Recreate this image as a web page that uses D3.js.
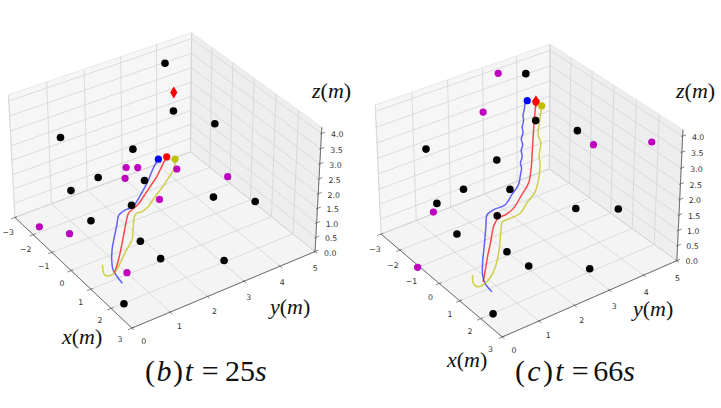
<!DOCTYPE html>
<html><head><meta charset="utf-8">
<script src="https://cdn.jsdelivr.net/npm/d3@7"></script>
<style>body{margin:0;background:#fff}svg{display:block}</style>
</head><body>
<script>
// ---------- axis ranges & ticks ----------
const xDomain=[-3,3], yDomain=[0,5], zDomain=[0,4.2];
const xTicks=[-3,-2,-1,0,1,2,3];
const yTicks=[0,1,2,3,4,5];
const zTicks=[0,0.5,1,1.5,2,2.5,3,3.5,4];
const xTickLabels=["\u22123","\u22122","\u22121","0","1","2","3"];
const yTickLabels=["0","1","2","3","4","5"];
const zTickLabels=["0.0","0.5","1.0","1.5","2.0","2.5","3.0","3.5","4.0"];
const titles=[["b","25"],["c","66"]];

// ---------- data (x, y, z in metres) ----------
const blackDots=[[-2.29,3.84,4.00],[-1.04,3.37,3.25],[0.48,3.63,3.54],[-2.30,0.97,2.73],[-1.20,2.34,2.33],[-1.26,1.42,1.75],[0.21,1.88,2.29],[-1.61,0.86,1.36],[0.26,3.76,0.85],[2.05,3.84,1.73],[0.00,1.64,1.44],[-0.97,1.05,0.60],[0.81,1.43,0.80],[2.34,1.12,1.33],[2.61,2.67,0.64],[2.03,0.32,0.01]];
const target=[-1.08,3.40,3.84];
const magenta25=[[-0.64,1.85,2.25],[-0.56,2.12,2.17],[-0.40,1.69,2.10],[0.01,2.87,2.10],[0.77,1.97,1.94],[0.94,3.74,1.97],[-1.93,0.14,0.25],[-0.75,0.36,0.63],[1.86,0.50,0.87]];
const magenta66=[[-2.74,3.30,4.02],[-1.97,2.41,3.48],[0.66,3.99,3.03],[2.36,4.55,3.70],[-1.60,0.75,1.13],[-1.00,-0.05,0.00]];
const blue25=[[2.16,0.22,0.85],[1.98,0.20,0.93],[1.75,0.20,1.05],[1.52,0.29,1.19],[1.29,0.43,1.37],[1.08,0.60,1.54],[0.87,0.78,1.72],[0.69,0.93,1.87],[0.68,1.10,1.95],[0.73,1.27,1.99],[0.68,1.41,2.08],[0.57,1.61,2.22],[0.42,1.85,2.39],[0.26,2.06,2.57],[0.16,2.21,2.68],[0.11,2.31,2.75]];
const red25=[[1.85,0.18,1.01],[1.69,0.35,1.16],[1.46,0.56,1.35],[1.22,0.76,1.55],[0.98,0.96,1.76],[0.81,1.12,1.91],[0.78,1.27,1.98],[0.77,1.39,2.04],[0.68,1.59,2.16],[0.57,1.83,2.32],[0.46,2.07,2.48],[0.32,2.28,2.63],[0.23,2.42,2.74],[0.19,2.49,2.79]];
const yellow25=[[1.36,0.13,1.01],[1.53,0.10,0.78],[1.63,0.23,0.78],[1.64,0.35,0.90],[1.55,0.53,1.08],[1.42,0.73,1.24],[1.30,0.94,1.40],[1.09,1.09,1.58],[0.87,1.24,1.77],[0.83,1.32,1.82],[0.88,1.43,1.85],[0.87,1.61,1.93],[0.77,1.85,2.09],[0.70,2.07,2.23],[0.60,2.30,2.39],[0.51,2.49,2.53],[0.40,2.60,2.64],[0.31,2.65,2.71]];
const blue66=[[2.16,0.22,0.85],[1.88,0.20,0.97],[1.68,0.25,1.09],[1.41,0.41,1.29],[1.15,0.60,1.49],[0.93,0.76,1.67],[0.70,0.92,1.84],[0.51,1.06,2.00],[0.49,1.16,2.04],[0.50,1.30,2.08],[0.59,1.51,2.15],[0.49,1.76,2.31],[0.39,2.01,2.47],[0.22,2.17,2.63],[0.09,2.28,2.74],[-0.03,2.32,2.82],[-0.13,2.43,2.92],[-0.29,2.50,3.03],[-0.37,2.59,3.11],[-0.52,2.64,3.21],[-0.62,2.75,3.31],[-0.76,2.81,3.41],[-0.86,2.91,3.51],[-1.00,2.98,3.61],[-1.10,3.08,3.71],[-1.20,3.16,3.79],[-1.23,3.24,3.85]];
const red66=[[1.84,0.17,1.01],[1.66,0.33,1.16],[1.42,0.53,1.35],[1.14,0.79,1.60],[0.84,1.06,1.85],[0.77,1.22,1.96],[0.81,1.41,2.01],[0.81,1.62,2.11],[0.66,1.94,2.32],[0.53,2.21,2.50],[0.26,2.45,2.74],[-0.07,2.68,3.01],[-0.40,2.91,3.28],[-0.67,3.10,3.50],[-0.90,3.27,3.69],[-1.06,3.39,3.83]];
const yellow66=[[1.40,0.14,0.99],[1.50,0.10,0.80],[1.61,0.17,0.72],[1.68,0.31,0.80],[1.70,0.46,0.95],[1.57,0.68,1.15],[1.29,0.94,1.41],[0.99,1.16,1.67],[0.82,1.31,1.83],[0.87,1.49,1.88],[0.93,1.73,1.96],[0.84,1.97,2.13],[0.74,2.27,2.31],[0.53,2.50,2.53],[0.28,2.69,2.75],[0.07,2.79,2.92],[-0.14,2.97,3.12],[-0.35,3.02,3.26],[-0.60,3.21,3.49],[-0.78,3.36,3.66],[-0.89,3.45,3.76]];

// ---------- 3D projection (matplotlib-like perspective) ----------
const DIST=10;
const bx=d3.scaleLinear(xDomain,[-0.5715,0.5715]);
const by=d3.scaleLinear(yDomain,[-0.5715,0.5715]);
const bz=d3.scaleLinear(zDomain,[-0.385,0.385]);
function cross(a,b){return [a[1]*b[2]-a[2]*b[1],a[2]*b[0]-a[0]*b[2],a[0]*b[1]-a[1]*b[0]];}
function dot(a,b){return a[0]*b[0]+a[1]*b[1]+a[2]*b[2];}
function makeCam(el,az,Sx,Sy,cx,cy){const e=el*Math.PI/180,a=az*Math.PI/180;
 const n=[Math.cos(e)*Math.cos(a),Math.cos(e)*Math.sin(a),Math.sin(e)];
 let u=[-n[1],n[0],0];const l=Math.hypot(u[0],u[1]);u=[u[0]/l,u[1]/l,0];
 return {n,u,v:cross(n,u),Sx,Sy,cx,cy};}
function projector(c){return p=>{const q=[bx(p[0]),by(p[1]),bz(p[2])];const w=DIST-dot(q,c.n);
 return [c.cx+c.Sx*dot(q,c.u)/w,c.cy-c.Sy*dot(q,c.v)/w,dot(q,c.n)];};}

const panels=[
 {cam:makeCam(34,-34,1932,1932,163.1,173.9),lines:[blue25,red25,yellow25],magenta:magenta25,
  title:titles[0],titleX:[145,201.7,225],titleW:48,
  labels:{x:[62,344],y:[270,314],z:[312,98]}},
 {cam:makeCam(31,-36,1889,1970,527.4,183.5),lines:[blue66,red66,yellow66],magenta:magenta66,
  title:titles[1],titleX:[515,571.7,593.3],titleW:48.5,
  labels:{x:[447,367],y:[633,316],z:[676,98]}}
];
const lineColors=["#0000ff","#ff0000","#bfbf00"];
const lineOpacity=[0.6,0.7,0.7];
const SERIF="Liberation Serif", SANS="DejaVu Sans";

const svg=d3.select("body").append("svg").attr("width",721).attr("height",408);
const zMax=zDomain[1];

panels.forEach(pn=>{
 const P=projector(pn.cam);
 const g=svg.append("g");
 const path=d3.line().x(d=>P(d)[0]).y(d=>P(d)[1]);
 const seg=(pts,st,w)=>g.append("path").attr("d",path(pts)).attr("fill","none").attr("stroke",st).attr("stroke-width",w);
 // panes
 const panes=[
  {pts:[[-3,0,0],[3,0,0],[3,5,0],[-3,5,0]],fill:"#f4f4f4"},
  {pts:[[-3,0,0],[-3,5,0],[-3,5,zMax],[-3,0,zMax]],fill:"#f6f6f6"},
  {pts:[[-3,5,0],[3,5,0],[3,5,zMax],[-3,5,zMax]],fill:"#eeeeee"}];
 panes.forEach(pa=>g.append("path").attr("d",path(pa.pts)+"Z").attr("fill",pa.fill).attr("stroke","#e2e2e2").attr("stroke-width",0.8));
 // grid
 const gc="#d4d4d4",gw=0.8;
 xTicks.forEach(t=>{seg([[t,0,0],[t,5,0]],gc,gw);seg([[t,5,0],[t,5,zMax]],gc,gw);});
 yTicks.forEach(t=>{seg([[-3,t,0],[3,t,0]],gc,gw);seg([[-3,t,0],[-3,t,zMax]],gc,gw);});
 zTicks.forEach(t=>{seg([[-3,0,t],[-3,5,t]],gc,gw);seg([[-3,5,t],[3,5,t]],gc,gw);});
 // axis lines
 const ac="#555";
 seg([[-3,0,0],[3,0,0]],ac,0.8);seg([[3,0,0],[3,5,0]],ac,0.8);seg([[3,5,0],[3,5,zMax]],ac,0.8);
 // ticks + labels
 const lab=(p,s)=>{const q=P(p);g.append("text").attr("font-family",SANS).attr("x",q[0]).attr("y",q[1]).attr("text-anchor","middle").attr("dominant-baseline","central").attr("font-size",7.8).attr("fill","#333").text(s);};
 xTicks.forEach((t,i)=>{seg([[t,0.06,0],[t,-0.1,0]],ac,0.7);lab([t-0.12*t/3,-0.25,-0.34],xTickLabels[i]);});
 yTicks.forEach((t,i)=>{seg([[2.95,t,0],[3.1,t,0]],ac,0.7);lab([3.274,t-0.154*(t-2.5)/2.5,-0.36],yTickLabels[i]);});
 zTicks.forEach((t,i)=>{seg([[3,4.96,t],[3,5.1,t]],ac,0.7);lab([3.29,5.25,t],zTickLabels[i]);});
 // axis labels
 const axLab=(pos,ch)=>{const t=g.append("text").attr("font-family",SERIF).attr("x",pos[0]).attr("y",pos[1]).attr("font-size",22).attr("fill","#111");
  t.append("tspan").attr("font-style","italic").text(ch);t.append("tspan").text("(");t.append("tspan").attr("font-style","italic").text("m");t.append("tspan").text(")");};
 axLab(pn.labels.x,"x");axLab(pn.labels.y,"y");axLab(pn.labels.z,"z");
 // trajectories
 const cl=d3.line().x(d=>P(d)[0]).y(d=>P(d)[1]).curve(d3.curveCatmullRom);
 pn.lines.forEach((ln,i)=>g.append("path").attr("d",cl(ln)).attr("fill","none").attr("stroke",lineColors[i]).attr("stroke-opacity",lineOpacity[i]).attr("stroke-width",1.5).attr("stroke-linejoin","round"));
 // scatter
 const dots=(pts,col,r)=>{const s=pts.map(p=>P(p)).sort((a,b)=>a[2]-b[2]);
  g.selectAll(null).data(s).join("circle").attr("cx",d=>d[0]).attr("cy",d=>d[1]).attr("r",r).attr("fill",col);};
 dots(blackDots,"#000",3.8);
 dots(pn.magenta,"#bf00bf",3.6);
 const tq=P(target);
 g.append("path").attr("d",`M${tq[0]},${tq[1]-6}L${tq[0]+3.6},${tq[1]}L${tq[0]},${tq[1]+6}L${tq[0]-3.6},${tq[1]}Z`).attr("fill","#ff0000");
 pn.lines.forEach((ln,i)=>dots([ln[ln.length-1]],lineColors[i],3.6));
 // title: (b)t = 25s
 const tline=(x)=>svg.append("text").attr("font-family",SERIF).attr("x",x).attr("y",381).attr("font-size",30).attr("fill","#111");
 const t1=tline(pn.titleX[0]).attr("textLength",pn.titleW).attr("lengthAdjust","spacing");
 t1.append("tspan").text("(");t1.append("tspan").attr("font-style","italic").text(pn.title[0]);t1.append("tspan").text(")");t1.append("tspan").attr("font-style","italic").text("t");
 tline(pn.titleX[1]).text("=");
 const t3=tline(pn.titleX[2]);t3.append("tspan").text(pn.title[1]);t3.append("tspan").attr("font-style","italic").text("s");
});
</script></body></html>
